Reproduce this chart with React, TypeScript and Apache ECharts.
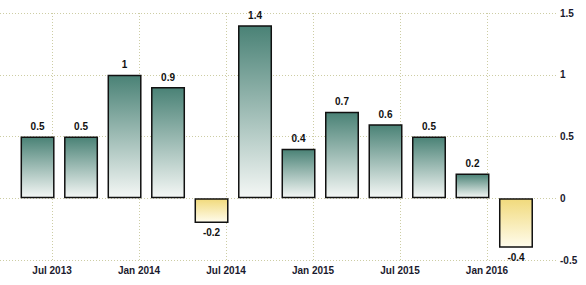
import React, { useEffect, useRef } from "react";
import * as echarts from "echarts";

const quarters = ["2013-06", "2013-09", "2013-12", "2014-03", "2014-06", "2014-09", "2014-12", "2015-03", "2015-06", "2015-09", "2015-12", "2016-03"];
const values = [0.5, 0.5, 1, 0.9, -0.2, 1.4, 0.4, 0.7, 0.6, 0.5, 0.2, -0.4];
const tickDates = ["2013-07", "2014-01", "2014-07", "2015-01", "2015-07", "2016-01"];
const tickLabels = ["Jul 2013", "Jan 2014", "Jul 2014", "Jan 2015", "Jul 2015", "Jan 2016"];
const yTicks = [-0.5, 0, 0.5, 1, 1.5];

const monthIndex = (s: string) => {
  const [y, m] = s.split("-").map(Number);
  return (y - 2013) * 12 + (m - 1);
};

export default function App() {
  const ref = useRef<HTMLDivElement>(null);
  useEffect(() => {
    if (!ref.current) return;
    const chart = echarts.init(ref.current, null, { renderer: "svg" });
    const tickVals = tickDates.map(monthIndex);
    const labelMap: Record<number, string> = {};
    tickVals.forEach((v, i) => (labelMap[v] = tickLabels[i]));
    const font = "Liberation Sans, Arial, sans-serif";
    const pos = new echarts.graphic.LinearGradient(0, 0, 0, 1, [
      { offset: 0, color: "#4a8276" },
      { offset: 1, color: "#f4f7f5" },
    ]);
    const neg = new echarts.graphic.LinearGradient(0, 0, 0, 1, [
      { offset: 0, color: "#f1da7c" },
      { offset: 1, color: "#fffcec" },
    ]);
    const data = quarters.map((q, i) => {
      const v = values[i];
      return {
        value: [monthIndex(q), v],
        itemStyle: { color: v >= 0 ? pos : neg },
        label: { position: v >= 0 ? "top" : "bottom" },
      };
    });
    chart.setOption({
      animation: false,
      grid: { left: 0, right: 30, top: 13, bottom: 25, containLabel: false },
      xAxis: {
        type: "value",
        min: 2.41,
        max: 40.76,
        axisLine: { show: false },
        axisTick: { show: false, customValues: tickVals },
        axisLabel: {
          customValues: tickVals,
          formatter: (v: number) => labelMap[v] ?? "",
          color: "#1a1a2e",
          fontFamily: font,
          fontWeight: "bold",
          fontSize: 10,
          margin: 5,
        },
        splitLine: { show: true, lineStyle: { color: "#cdcda4", type: [1, 2], width: 1 } },
      },
      yAxis: {
        type: "value",
        position: "right",
        min: -0.5,
        max: 1.5,
        interval: 0.5,
        axisLine: { show: false },
        axisTick: { show: false },
        axisLabel: {
          formatter: (v: number) => (yTicks.includes(v) ? String(v) : ""),
          color: "#1a1a2e",
          fontFamily: font,
          fontWeight: "bold",
          fontSize: 10,
          margin: 4,
          align: "left",
        },
        splitLine: { show: true, lineStyle: { color: "#cdcda4", type: [1, 2], width: 1 } },
      },
      series: [
        {
          type: "bar",
          barWidth: 34,
          data,
          itemStyle: { borderColor: "#111", borderWidth: 1.5 },
          label: {
            show: true,
            color: "#111",
            fontFamily: font,
            fontWeight: "bold",
            fontSize: 10,
            distance: 5,
            formatter: (p: any) => String(p.value[1]),
          },
        },
      ],
    });
    return () => chart.dispose();
  }, []);
  return <div ref={ref} style={{ position: "fixed", left: 0, top: 0, width: 586, height: 285, background: "#fff" }} />;
}
